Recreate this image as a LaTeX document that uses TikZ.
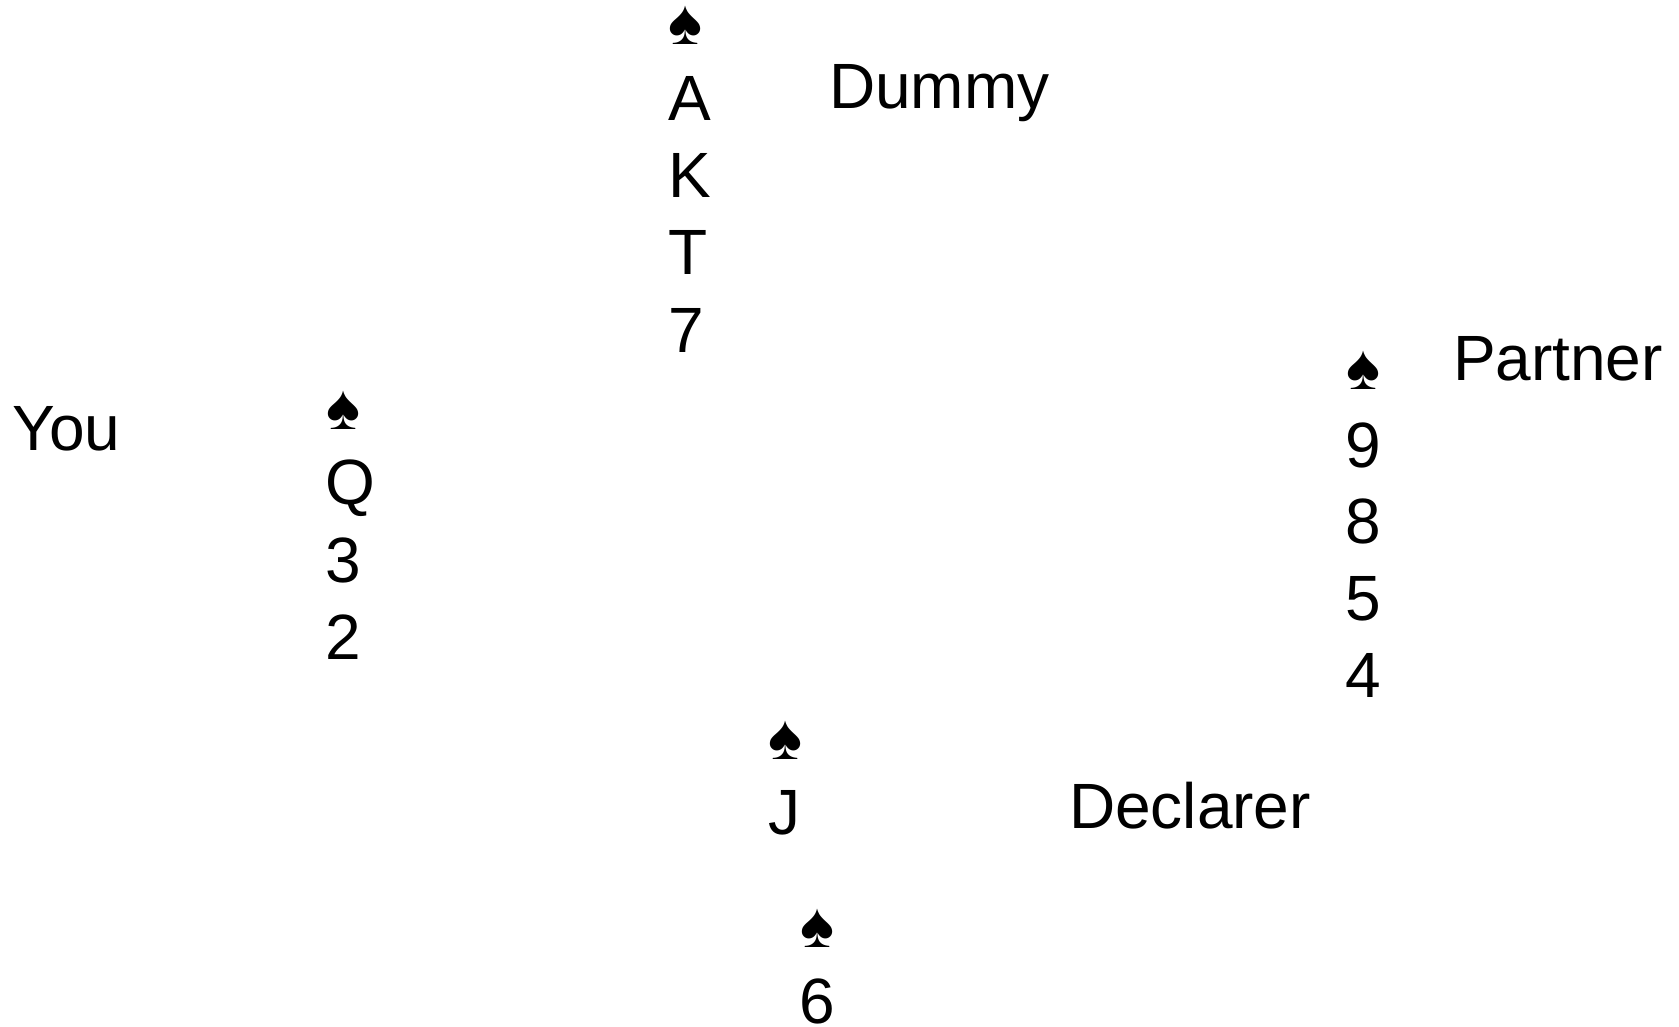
\documentclass[tikz,border=0pt]{standalone}
\usepackage{fontspec}
\setmainfont{Liberation Sans}
\tikzset{x=1pt,y=-1pt,
 txt/.style={inner sep=0pt,outer sep=0pt,anchor=base west,font=\fontsize{64}{64}\selectfont},
 suit/.style={inner sep=0pt,outer sep=0pt,anchor=base west,font=\fontsize{64}{64}\selectfont}}
\begin{document}
\begin{tikzpicture}
\useasboundingbox (0,0) rectangle (1679,1026);
\node[suit] (s1) at (668,44) {♠};
\node[txt] (a) at (668,120) {A};
\node[txt] (k) at (668,197) {K};
\node[txt] (t) at (668,274) {T};
\node[txt] (n7) at (668,352) {7};
\node[txt] (dummy) at (829,108) {Dummy};
\node[txt] (you) at (12.5,450) {You};
\node[suit] (s2) at (326,429) {♠};
\node[txt] (q) at (325,504) {Q};
\node[txt] (n3) at (325,582) {3};
\node[txt] (n2) at (325,659) {2};
\node[suit] (s3) at (1346,389) {♠};
\node[txt] (n9) at (1345,467) {9};
\node[txt] (n8) at (1345,543.5) {8};
\node[txt] (n5) at (1345,620.5) {5};
\node[txt] (n4) at (1345,697) {4};
\node[txt] (partner) at (1453,380) {Partner};
\node[suit] (s4) at (768,759) {♠};
\node[txt] (j) at (768,834) {J};
\node[txt] (declarer) at (1069,828) {Declarer};
\node[suit] (s5) at (800,947) {♠};
\node[txt] (n6) at (799.5,1023) {6};
\end{tikzpicture}
\end{document}
